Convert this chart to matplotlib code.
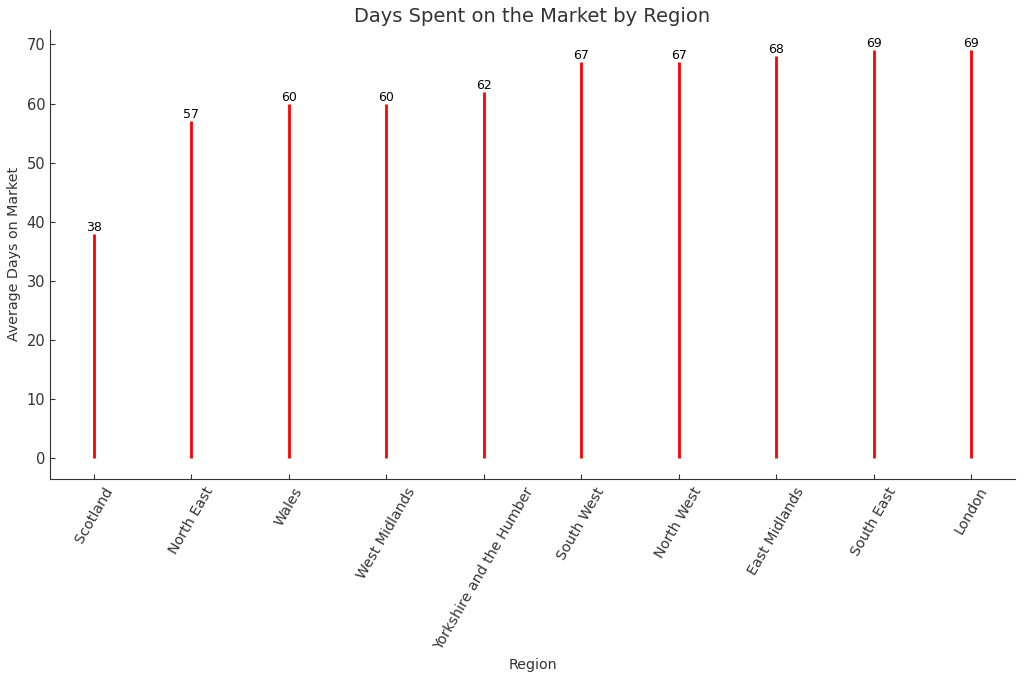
import matplotlib.pyplot as plt

regions = ["Scotland", "North East", "Wales", "West Midlands", "Yorkshire and the Humber",
           "South West", "North West", "East Midlands", "South East", "London"]
days = [38, 57, 60, 60, 62, 67, 67, 68, 69, 69]

plt.rcParams['text.color'] = '#333333'
plt.rcParams['axes.labelcolor'] = '#333333'
plt.rcParams['xtick.color'] = '#333333'
plt.rcParams['ytick.color'] = '#333333'
plt.rcParams['axes.edgecolor'] = '#333333'

fig, ax = plt.subplots(figsize=(10.24, 6.8), dpi=100)
x = range(len(regions))
ax.vlines(x, 0, days, color='red', linewidth=2)
for i, d in zip(x, days):
    ax.text(i, d, str(d), ha='center', va='bottom', fontsize=9, color='black')

ax.set_xticks(list(x))
ax.set_xticklabels(regions, rotation=60, ha='center', fontsize=10.3)
ax.tick_params(axis='both', direction='in')
ax.tick_params(axis='x', pad=4.5)
ax.tick_params(axis='y', labelsize=10.5)
ax.set_title('Days Spent on the Market by Region', fontsize=14)
ax.set_xlabel('Region', fontsize=10.3)
ax.set_ylabel('Average Days on Market', fontsize=10.3)
ax.spines['top'].set_visible(False)
ax.spines['right'].set_visible(False)

plt.subplots_adjust(left=0.049, right=0.991, top=0.956, bottom=0.296)
plt.savefig('out.png', dpi=100)
